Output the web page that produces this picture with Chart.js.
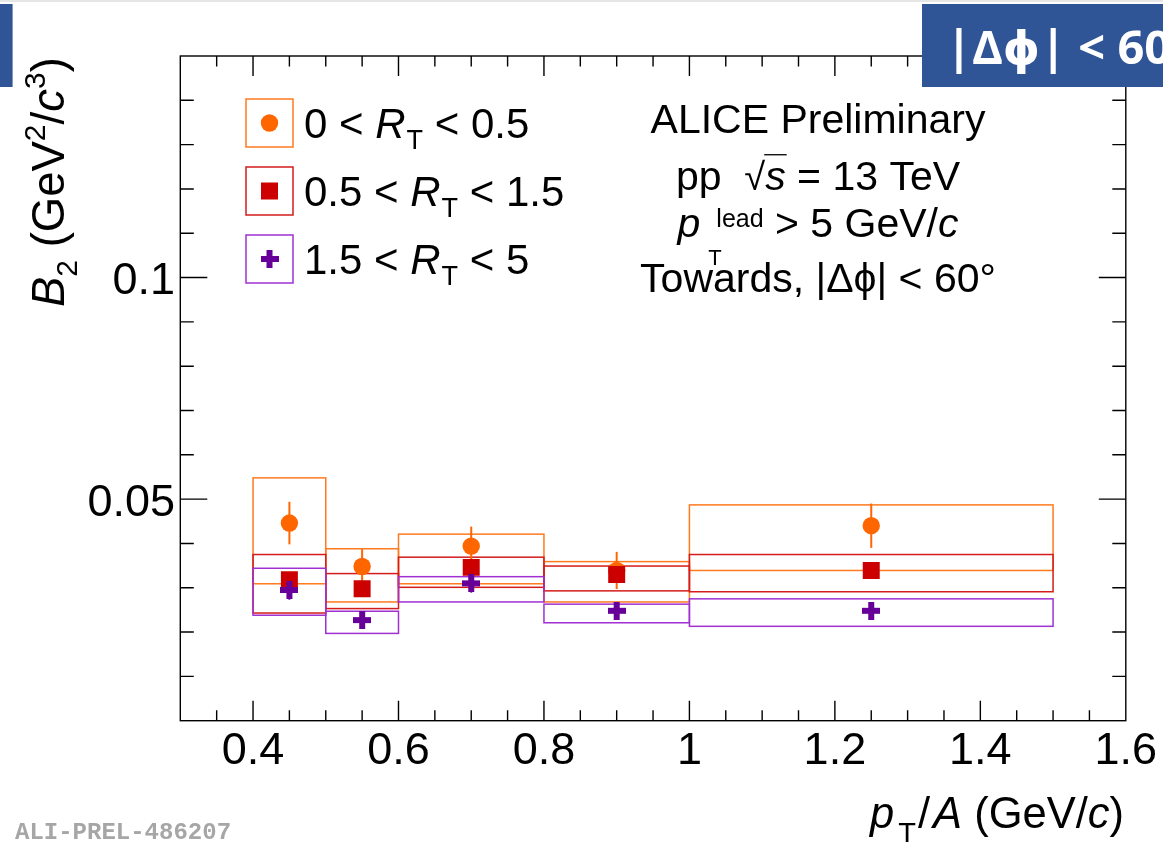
<!DOCTYPE html>
<html>
<head>
<meta charset="utf-8">
<script src="https://cdn.jsdelivr.net/npm/chart.js@4.4.1/dist/chart.umd.min.js"></script>
<style>
  html, body { margin: 0; padding: 0; background: #fff; }
  #wrap { position: relative; width: 1163px; height: 842px; }
</style>
</head>
<body>
<div id="wrap"><canvas id="b2Chart"></canvas></div>
<script>
// pT/A bins
const binCenters = [0.45, 0.55, 0.7, 0.9, 1.25];
const binLow = [0.4, 0.5, 0.6, 0.8, 1.0];
const binHigh = [0.5, 0.6, 0.8, 1.0, 1.5];

// 0 < RT < 0.5
const b2Low = [0.0446, 0.0348, 0.0394, 0.0339, 0.0440];
const statLow = [0.0048, 0.0039, 0.0044, 0.0042, 0.0050];
const sysLowUp = [0.0548, 0.0388, 0.0421, 0.0359, 0.0487];
const sysLowDown = [0.0309, 0.0268, 0.0309, 0.0268, 0.0339];

// 0.5 < RT < 1.5
const b2Mid = [0.0318, 0.0298, 0.0346, 0.0330, 0.0339];
const statMid = [0.0016, 0.0015, 0.0016, 0.0015, 0.0015];
const sysMidUp = [0.0375, 0.0332, 0.0369, 0.0349, 0.0375];
const sysMidDown = [0.0243, 0.0253, 0.0301, 0.0293, 0.0291];

// 1.5 < RT < 5
const b2High = [0.0295, 0.0227, 0.0310, 0.0248, 0.0248];
const statHigh = [0.0022, 0.0016, 0.0021, 0.0016, 0.0016];
const sysHighUp = [0.0344, 0.0247, 0.0325, 0.0263, 0.0275];
const sysHighDown = [0.0238, 0.0197, 0.0268, 0.0221, 0.0213];

const xTickValues = [0.4, 0.6, 0.8, 1.0, 1.2, 1.4, 1.6];
const xTickLabels = ["0.4", "0.6", "0.8", "1", "1.2", "1.4", "1.6"];
const yTickValues = [0.05, 0.1];
const yTickLabels = ["0.05", "0.1"];

const SANS = '"Liberation Sans", Arial, Helvetica, sans-serif';

const series = [
  { vals: b2Low, stat: statLow, up: sysLowUp, down: sysLowDown,
    marker: "#ff6600", box: "#ff7a1f", style: "circle", legend: "0.5", legendFrom: "0" },
  { vals: b2Mid, stat: statMid, up: sysMidUp, down: sysMidDown,
    marker: "#cc0000", box: "#d41c1c", style: "rect", legend: "1.5", legendFrom: "0.5" },
  { vals: b2High, stat: statHigh, up: sysHighUp, down: sysHighDown,
    marker: "#660099", box: "#a030d2", style: "plus", legend: "5", legendFrom: "1.5" },
];

// thick filled cross, like ROOT marker 34
function makePlus(color, size, arm) {
  const c = document.createElement("canvas");
  c.width = size; c.height = size;
  const g = c.getContext("2d");
  g.fillStyle = color;
  const o = (size - arm) / 2;
  g.fillRect(o, 0, arm, size);
  g.fillRect(0, o, size, arm);
  return c;
}
const plusImg = makePlus("#660099", 18, 6);

function drawMarker(ctx, style, color, x, y) {
  ctx.fillStyle = color;
  if (style === "circle") {
    ctx.beginPath();
    ctx.arc(x, y, 8.7, 0, Math.PI * 2);
    ctx.fill();
  } else if (style === "rect") {
    ctx.fillRect(x - 8.5, y - 8.5, 17, 17);
  } else {
    ctx.drawImage(plusImg, x - 9, y - 9);
  }
}

// text made of runs: italic, sub/superscripts, stacked indices
function richText(ctx, parts, x, y, align, size) {
  const fontOf = (p) => `${p.it ? "italic " : ""}${p.sz || size}px ${SANS}`;
  let total = 0;
  parts.forEach((p) => {
    ctx.font = fontOf(p);
    p.w = ctx.measureText(p.t).width;
    total += (p.dx || 0) + (p.adv === false ? 0 : p.w);
  });
  let cx = align === "center" ? x - total / 2 : align === "right" ? x - total : x;
  ctx.textAlign = "left";
  ctx.textBaseline = "alphabetic";
  parts.forEach((p) => {
    cx += p.dx || 0;
    ctx.font = fontOf(p);
    ctx.fillText(p.t, cx, y + (p.dy || 0));
    if (p.over) {
      ctx.beginPath();
      ctx.lineWidth = 1.3;
      ctx.strokeStyle = ctx.fillStyle;
      ctx.moveTo(cx - 1, y - (p.sz || size) * 0.86);
      ctx.lineTo(cx + p.w + 1, y - (p.sz || size) * 0.86);
      ctx.stroke();
    }
    if (p.adv !== false) cx += p.w;
  });
}

const rootStyle = {
  id: "rootStyle",
  beforeDraw(chart) {
    const { ctx } = chart;
    ctx.save();
    ctx.fillStyle = "#ffffff";
    ctx.fillRect(0, 0, chart.width, chart.height);
    ctx.fillStyle = "#e6e6e6";
    ctx.fillRect(0, 0, chart.width, 2);
    ctx.restore();
  },
  beforeDatasetsDraw(chart) {
    const { ctx, scales: { x, y } } = chart;
    ctx.save();
    // systematic boxes
    ctx.lineWidth = 1.5;
    series.forEach((s) => {
      ctx.strokeStyle = s.box;
      binCenters.forEach((_, i) => {
        const x0 = x.getPixelForValue(binLow[i]);
        const x1 = x.getPixelForValue(binHigh[i]);
        const y0 = y.getPixelForValue(s.up[i]);
        const y1 = y.getPixelForValue(s.down[i]);
        ctx.strokeRect(x0, y0, x1 - x0, y1 - y0);
      });
    });
    // statistical errors
    ctx.lineWidth = 2;
    series.forEach((s) => {
      ctx.strokeStyle = s.marker;
      binCenters.forEach((c, i) => {
        const px = x.getPixelForValue(c);
        ctx.beginPath();
        ctx.moveTo(px, y.getPixelForValue(s.vals[i] + s.stat[i]));
        ctx.lineTo(px, y.getPixelForValue(s.vals[i] - s.stat[i]));
        ctx.stroke();
      });
    });
    ctx.restore();
  },
  afterDraw(chart) {
    const { ctx, chartArea: a, scales: { x, y } } = chart;
    ctx.save();

    // frame and inward ticks on all four sides
    ctx.strokeStyle = "#000";
    ctx.lineWidth = 1.4;
    ctx.strokeRect(a.left, a.top, a.right - a.left, a.bottom - a.top);
    ctx.beginPath();
    for (let k = 1; k <= 25; k++) {
      const v = 0.3 + k * 0.05;
      const major = k % 4 === 2;
      const len = major ? 20 : 10.5;
      const px = x.getPixelForValue(v);
      ctx.moveTo(px, a.bottom); ctx.lineTo(px, a.bottom - len);
      ctx.moveTo(px, a.top); ctx.lineTo(px, a.top + len);
    }
    for (let k = 1; k <= 14; k++) {
      const major = k % 5 === 0;
      const len = major ? 27 : 13.5;
      const py = y.getPixelForValue(k * 0.01);
      ctx.moveTo(a.left, py); ctx.lineTo(a.left + len, py);
      ctx.moveTo(a.right, py); ctx.lineTo(a.right - len, py);
    }
    ctx.stroke();

    // tick labels
    ctx.fillStyle = "#000";
    ctx.font = `45px ${SANS}`;
    ctx.textBaseline = "alphabetic";
    ctx.textAlign = "center";
    xTickValues.forEach((v, i) => ctx.fillText(xTickLabels[i], x.getPixelForValue(v), 764));
    ctx.textAlign = "right";
    yTickValues.forEach((v, i) => ctx.fillText(yTickLabels[i], 175, y.getPixelForValue(v) + 16.5));

    // axis titles
    richText(ctx, [
      { t: "p", it: true },
      { t: "T", sz: 29, dy: 15, dx: 4 },
      { t: "/", dx: 2 },
      { t: "A", it: true, dx: 3 },
      { t: " (GeV/" },
      { t: "c", it: true },
      { t: ")" },
    ], 1124, 828, "right", 43.5);

    ctx.save();
    ctx.translate(64, 307);
    ctx.rotate(-Math.PI / 2);
    richText(ctx, [
      { t: "B", it: true },
      { t: "2", sz: 30, dy: 13 },
      { t: " (GeV" },
      { t: "2", sz: 30, dy: -19 },
      { t: "/" },
      { t: "c", it: true },
      { t: "3", sz: 30, dy: -19 },
      { t: ")" },
    ], 0, 0, "left", 45.5);
    ctx.restore();

    // legend
    const legendTop = [99, 167, 235];
    series.forEach((s, i) => {
      const top = legendTop[i];
      ctx.strokeStyle = s.box;
      ctx.lineWidth = 1.5;
      ctx.strokeRect(246, top, 47, 48);
      drawMarker(ctx, s.style, s.marker, 269.5, top + 24);
      ctx.fillStyle = "#000";
      richText(ctx, [
        { t: s.legendFrom + " < " },
        { t: "R", it: true },
        { t: "T", sz: 27, dy: 11, dx: 1 },
        { t: " < " + s.legend },
      ], 304, top + 38.5, "left", 42);
    });

    // labels block
    ctx.fillStyle = "#000";
    const cx = 818;
    richText(ctx, [{ t: "ALICE Preliminary" }], cx, 132.7, "center", 41);
    richText(ctx, [
      { t: "pp  " },
      { t: "\u221A", sz: 38 },
      { t: "s", it: true, over: true },
      { t: " = 13 TeV" },
    ], cx, 190, "center", 41);
    richText(ctx, [
      { t: "p", it: true },
      { t: "T", sz: 22, dy: 28, dx: 8, adv: false },
      { t: "lead", sz: 25, dy: -10, dx: 8 },
      { t: " > 5 GeV/" },
      { t: "c", it: true },
    ], cx, 236.7, "center", 41);
    richText(ctx, [{ t: "Towards, |\u0394\u03D5| < 60\u00B0" }], cx, 291.7, "center", 41);

    // slide badges
    ctx.fillStyle = "#2f5597";
    ctx.fillRect(922, 4, 241, 83);
    ctx.fillRect(0, 4, 12.6, 83);
    ctx.fillStyle = "#ffffff";
    ctx.font = 'bold 47px "Open Sans", "DejaVu Sans", sans-serif';
    ctx.textAlign = "left";
    ctx.fillText("|\u0394\u03D5| < 60\u00B0", 946, 64);

    // figure id
    ctx.fillStyle = "#a6a6a6";
    ctx.font = 'bold 24px "Liberation Mono", "DejaVu Sans Mono", monospace';
    ctx.fillText("ALI-PREL-486207", 15, 839);

    ctx.restore();
  },
};

const points = (vals) => binCenters.map((c, i) => ({ x: c, y: vals[i] }));

new Chart(document.getElementById("b2Chart"), {
  type: "scatter",
  data: {
    datasets: [
      { label: "0 < RT < 0.5", data: points(b2Low), pointStyle: "circle", pointRadius: 8.7,
        backgroundColor: "#ff6600", pointBorderWidth: 0, order: 3 },
      { label: "0.5 < RT < 1.5", data: points(b2Mid), pointStyle: "rect", pointRadius: 12,
        backgroundColor: "#cc0000", pointBorderWidth: 0, order: 2 },
      { label: "1.5 < RT < 5", data: points(b2High), pointStyle: plusImg, pointRadius: 9,
        backgroundColor: "#660099", pointBorderWidth: 0, order: 1 },
    ],
  },
  options: {
    responsive: true,
    maintainAspectRatio: false,
    animation: false,
    events: [],
    layout: { padding: { left: 180.3, right: 37.2, top: 56, bottom: 121.3 } },
    scales: {
      x: { type: "linear", display: false, min: 0.3, max: 1.6 },
      y: { type: "linear", display: false, min: 0, max: 0.15 },
    },
    plugins: {
      legend: { display: false },
      tooltip: { enabled: false },
    },
  },
  plugins: [rootStyle],
});
</script>
</body>
</html>
